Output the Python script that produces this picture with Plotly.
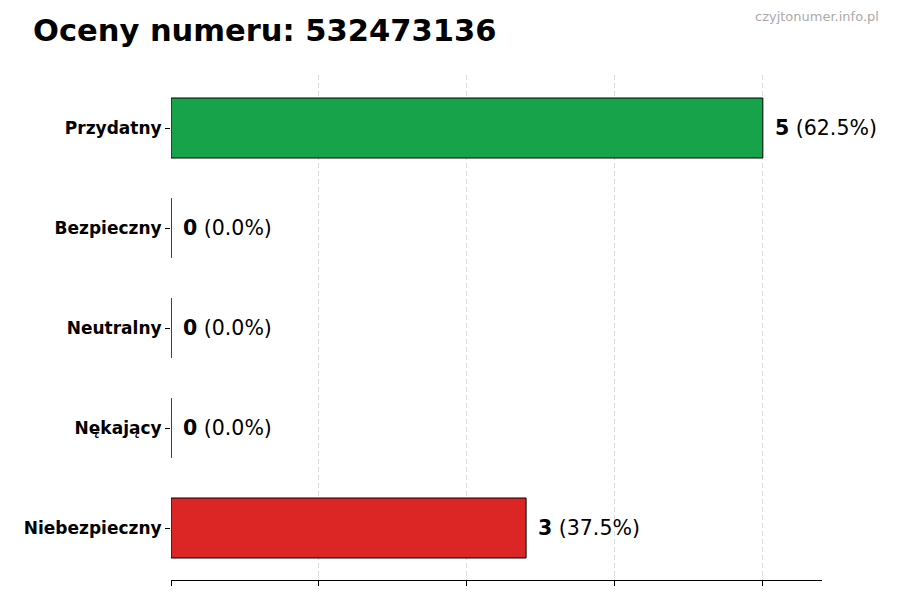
import plotly.graph_objects as go

categories = ["Niebezpieczny", "Nękający", "Neutralny", "Bezpieczny", "Przydatny"]
counts = [3, 0, 0, 0, 5]
colors = ["#dc2626", "#6b7280", "#9ca3af", "#3b82f6", "#16a34a"]
total = sum(counts)

fig = go.Figure()
fig.add_trace(
    go.Bar(
        x=counts,
        y=categories,
        orientation="h",
        width=0.6,
        marker=dict(color=colors, line=dict(color="black", width=1)),
        hoverinfo="skip",
    )
)

for cat, n in zip(categories, counts):
    fig.add_annotation(
        x=n, y=cat, xref="x", yref="y",
        text=f"<b>{n}</b> ({n / total * 100:.1f}%)",
        showarrow=False, xanchor="left", xshift=10,
        font=dict(size=20.5, color="black"),
    )

fig.add_annotation(
    x=-0.215, y=1.089, xref="paper", yref="paper",
    text="<b>Oceny numeru: 532473136</b>", showarrow=False,
    xanchor="left", yanchor="middle", font=dict(size=30.5, color="black"),
)
fig.add_annotation(
    x=1.091, y=1.115, xref="paper", yref="paper",
    text="czyjtonumer.info.pl", showarrow=False,
    xanchor="right", yanchor="middle", font=dict(size=13, color="#aaaaaa"),
)

fig.update_layout(
    width=900, height=600,
    margin=dict(l=163, r=86, t=67, b=28),
    plot_bgcolor="white", paper_bgcolor="white",
    font=dict(family="DejaVu Sans", color="black"),
    showlegend=False,
    xaxis=dict(
        range=[0, 5.5], tickvals=[0, 1.25, 2.5, 3.75, 5], showticklabels=False,
        ticks="outside", ticklen=5, tickcolor="black",
        showgrid=True, gridcolor="#dddddd", griddash="5px,3px", gridwidth=1,
        showline=True, linecolor="black", linewidth=1, zeroline=False,
    ),
    yaxis=dict(
        range=[-0.52, 4.53], ticks="outside", ticklen=5, tickcolor="black",
        tickfont=dict(size=17), showgrid=False, showline=False,
        tickprefix="<b>", ticksuffix="</b>",
    ),
)

fig.write_html("out.html")
